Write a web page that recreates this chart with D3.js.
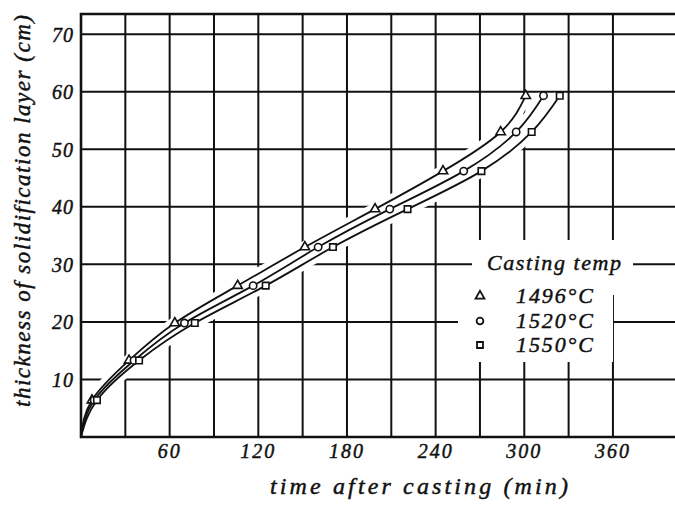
<!DOCTYPE html>
<html>
<head>
<meta charset="utf-8">
<script src="https://cdn.jsdelivr.net/npm/d3@7"></script>
<style>
  body { margin: 0; background: #fff; }
  text { font-family: "Liberation Serif", serif; font-style: italic; fill: #111; stroke: #111; stroke-width: 0.45; }
</style>
</head>
<body>
<svg id="chart" width="675" height="507"></svg>
<script>
// thickness levels shared by all three series (cm)
const thickness = [6.4, 13.3, 19.8, 26.3, 33.0, 39.6, 46.2, 53.0, 59.3];
// time after casting (min) for each casting temperature
const times1496 = [7.4, 32.5, 63.5, 106, 151.5, 199, 245, 284, 301];
const times1520 = [8.9, 35.9, 70, 116.5, 160.5, 209, 259, 294.5, 313];
const times1550 = [10.8, 39.3, 77, 125, 170.5, 221, 271, 305, 324];
const seriesLabels = ['1496°C', '1520°C', '1550°C'];

const xTicks = [60, 120, 180, 240, 300, 360];
const xGrid = [30, 60, 90, 120, 150, 180, 210, 240, 270, 300, 330, 360];
const yTicks = [10, 20, 30, 40, 50, 60, 70];

const svg = d3.select('#chart');
const x = d3.scaleLinear().domain([0, 402]).range([81, 675]);
const y = d3.scaleLinear().domain([0, 73.5]).range([437, 14]);

const symbols = [d3.symbolTriangle, d3.symbolCircle, d3.symbolSquare];
const series = seriesLabels.map((label, i) => ({
  label,
  symbol: symbols[i],
  points: [[0, 0]].concat([times1496, times1520, times1550][i].map((t, j) => [t, thickness[j]])),
}));

const line = d3.line()
  .x((d) => x(d[0]))
  .y((d) => y(d[1]))
  .curve(d3.curveNatural);

// Grid
const grid = svg.append('g').attr('stroke', '#111').attr('stroke-width', 2);
grid.selectAll('.vg')
  .data(xGrid)
  .join('line')
  .attr('x1', (d) => x(d))
  .attr('x2', (d) => x(d))
  .attr('y1', y(0))
  .attr('y2', y(73.5));
grid.selectAll('.hg')
  .data(yTicks)
  .join('line')
  .attr('x1', x(0))
  .attr('x2', x(402))
  .attr('y1', (d) => y(d))
  .attr('y2', (d) => y(d));

// white halos: grid breaks where the curves cross
svg.append('g')
  .selectAll('path')
  .data(series)
  .join('path')
  .attr('d', (d) => line(d.points))
  .attr('fill', 'none')
  .attr('stroke', '#fff')
  .attr('stroke-width', 12);

// legend backing
svg.append('path')
  .attr('d', 'M472,240H633V295H613V362H458V300H472Z')
  .attr('fill', '#fff');

// frame
const frame = svg.append('g').attr('stroke', '#111').attr('stroke-width', 2.6).attr('fill', 'none');
frame.append('path')
  .attr('d', `M${x(402)},${y(73.5)}H${x(0)}V${y(0)}H${x(402)}`);

// curves
svg.append('g')
  .selectAll('path')
  .data(series)
  .join('path')
  .attr('d', (d) => line(d.points))
  .attr('fill', 'none')
  .attr('stroke', '#111')
  .attr('stroke-width', 1.8);

// markers
series.forEach((s) => {
  svg.append('g')
    .selectAll('path')
    .data(s.points.slice(1))
    .join('path')
    .attr('transform', (d) => `translate(${x(d[0])},${y(d[1])})`)
    .attr('d', d3.symbol().type(s.symbol).size(s.symbol === d3.symbolTriangle ? 38 : 42))
    .attr('fill', '#fff')
    .attr('stroke', '#111')
    .attr('stroke-width', 1.6);
});

// tick labels
svg.append('g')
  .selectAll('text')
  .data(xTicks)
  .join('text')
  .attr('x', (d) => x(d))
  .attr('y', 458)
  .attr('text-anchor', 'middle')
  .attr('font-size', 20)
  .attr('letter-spacing', 2)
  .text((d) => d);

svg.append('g')
  .selectAll('text')
  .data(yTicks)
  .join('text')
  .attr('x', 74)
  .attr('y', (d) => y(d) + 7.5)
  .attr('text-anchor', 'end')
  .attr('font-size', 20)
  .attr('letter-spacing', 1)
  .text((d) => d);

// axis titles
svg.append('text')
  .attr('x', 419)
  .attr('y', 494)
  .attr('text-anchor', 'middle')
  .attr('font-size', 24)
  .attr('textLength', 298)
  .text('time after casting (min)');

svg.append('text')
  .attr('transform', 'translate(30,211) rotate(-90)')
  .attr('text-anchor', 'middle')
  .attr('font-size', 23)
  .attr('textLength', 392)
  .text('thickness of solidification layer (cm)');

// legend
const legend = svg.append('g');
legend.append('text')
  .attr('x', 487)
  .attr('y', 270)
  .attr('font-size', 22)
  .attr('textLength', 134)
  .text('Casting temp');

const legendY = [296, 321, 345];
series.forEach((s, i) => {
  legend.append('path')
    .attr('transform', `translate(480,${legendY[i]})`)
    .attr('d', d3.symbol().type(s.symbol).size(s.symbol === d3.symbolTriangle ? 34 : 36))
    .attr('fill', '#fff')
    .attr('stroke', '#111')
    .attr('stroke-width', 1.8);
  legend.append('text')
    .attr('x', 516)
    .attr('y', legendY[i] + 7)
    .attr('font-size', 22)
    .attr('textLength', 77)
    .text(s.label);
});
</script>
</body>
</html>
